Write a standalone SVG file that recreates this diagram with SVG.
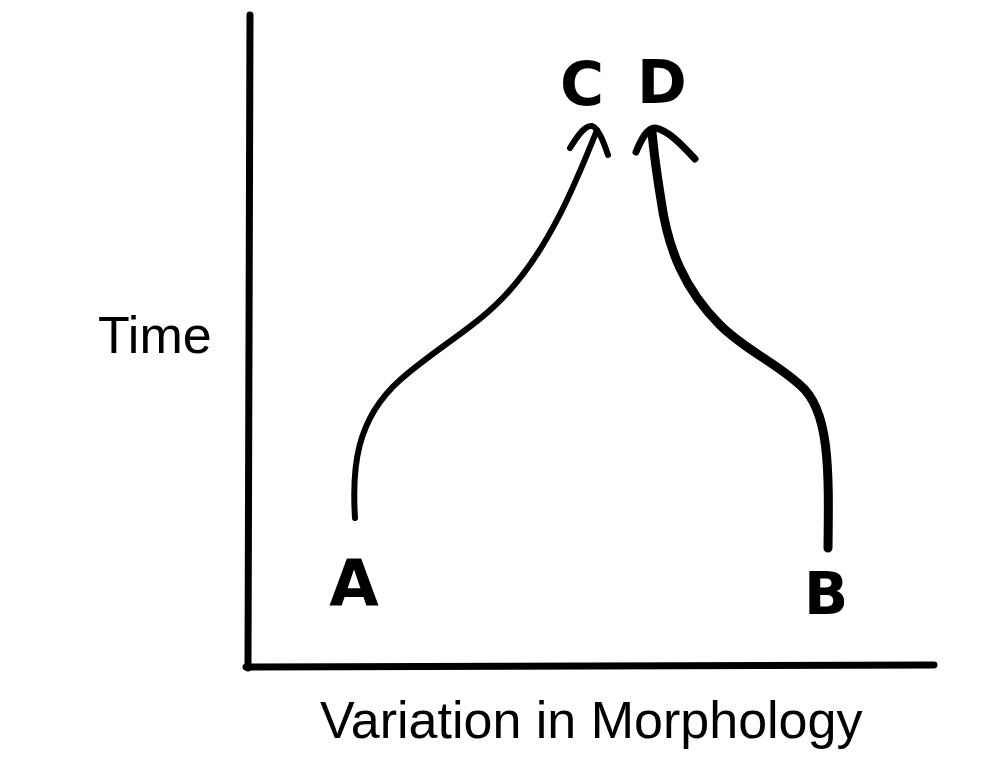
<svg xmlns="http://www.w3.org/2000/svg" width="984" height="772" viewBox="0 0 984 772">
<style>
.ax{fill:none;stroke:#000;stroke-width:7;stroke-linecap:round}
.cv{fill:none;stroke:#000;stroke-linecap:round;stroke-linejoin:round}
.lbl{font-family:"Liberation Sans",Arial,sans-serif;font-size:52px;fill:#000}
.hand{font-family:"DejaVu Sans","Liberation Sans",sans-serif;font-weight:bold;fill:#000;text-anchor:middle}
</style>
<rect width="984" height="772" fill="#fff"/>
<g id="axes">
<path class="ax" d="M250,15 L248,668"/>
<path class="ax" d="M246,667 L934,665"/>
</g>
<g id="connectors">
<path class="cv" stroke-width="6" d="M355,518 C352,470 355,420 400,380 C440,345 480,325 510,290 C550,245 575,185 597,130"/>
<path class="cv" stroke-width="6" d="M570,148 C578,135 585,125 592,126 C598,128 603,140 608,155"/>
<path class="cv" stroke-width="9" d="M828,548 C829,470 830,410 800,385 C775,362 745,350 720,325 C685,290 668,250 661,200 C657,175 654,155 652,132"/>
<path class="cv" stroke-width="7" d="M636,152 C641,140 647,128 655,128 C668,130 682,145 695,159"/>
</g>
<g id="node-A"><text class="hand" x="354" y="606" font-size="64">A</text></g>
<g id="node-B"><text class="hand" x="826" y="614" font-size="58">B</text></g>
<g id="node-C"><text class="hand" x="582" y="105" font-size="60">C</text></g>
<g id="node-D"><text class="hand" x="662" y="103" font-size="60">D</text></g>
<g id="label-time"><text class="lbl" x="98" y="353">Time</text></g>
<g id="label-x"><text class="lbl" x="320" y="738">Variation in Morphology</text></g>
</svg>
